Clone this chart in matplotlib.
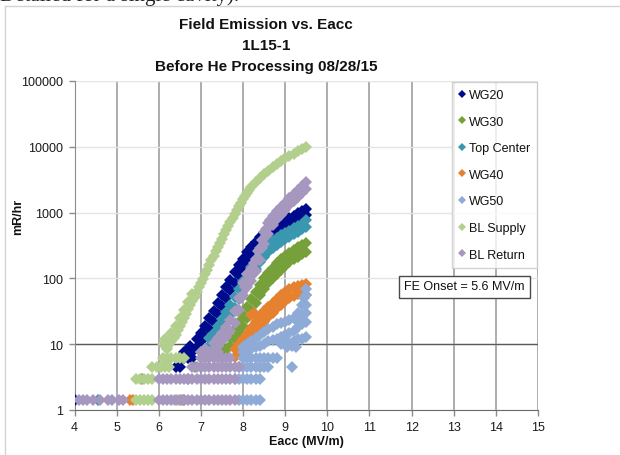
import matplotlib
matplotlib.use("Agg")
import matplotlib.pyplot as plt
from matplotlib.ticker import FixedLocator, FuncFormatter, NullLocator
from matplotlib.lines import Line2D

plt.rcParams['font.family'] = ['Liberation Sans', 'DejaVu Sans']

# --- data (Eacc in MV/m, dose in mR/hr) ---
series_names = ['WG20', 'WG30', 'Top Center', 'WG40', 'WG50', 'BL Supply', 'BL Return']
series_colors = ['#000a8c', '#76a03a', '#3a97b0', '#e6822f', '#8eaad6', '#b3cf8e', '#a697bf']

# WG20
wg20_floor_x = [4.0, 6.4, 6.5, 6.5, 6.6, 6.7, 6.8, 6.6, 6.7, 6.8, 6.75]
wg20_floor_y = [1.4, 4.5, 4.5, 6.1, 6.1, 6.1, 6.1, 7.5, 8.5, 7.5, 9.5]
wg20_band_x = [6.9, 7.0, 7.1, 7.2, 7.3, 7.4, 7.5, 7.6, 7.7, 7.8, 7.9, 8.0, 8.1, 8.2,
               8.3, 8.4, 8.5, 8.6, 8.7, 8.8, 8.9, 9.0, 9.1, 9.2, 9.3, 9.4, 9.5]
wg20_band_lo = [9, 11, 13, 17, 22, 29, 38, 50, 66, 86, 112, 145, 185, 230,
                275, 330, 385, 440, 500, 545, 590, 635, 690, 745, 800, 860, 930]
wg20_band_hi = [12, 15, 19, 25, 32, 42, 56, 74, 96, 125, 160, 200, 250, 300,
                355, 420, 490, 560, 625, 680, 730, 780, 840, 900, 970, 1050, 1150]

# WG30
wg30_floor_x = [5.6, 6.85, 7.5, 7.45, 7.55, 7.6]
wg30_floor_y = [3.0, 4.5, 6.1, 6.6, 7.5, 8.5]
wg30_band_x = [7.7, 7.8, 7.9, 8.0, 8.1, 8.2, 8.3, 8.4, 8.5, 8.6, 8.7, 8.8, 8.9,
               9.0, 9.1, 9.2, 9.3, 9.4, 9.5]
wg30_band_lo = [9.5, 12, 15, 19, 25, 33, 43, 55, 68, 84, 100, 118, 136,
                155, 175, 195, 215, 235, 255]
wg30_band_hi = [13, 17, 22, 28, 37, 49, 63, 80, 100, 122, 145, 170, 195,
                220, 245, 270, 295, 320, 350]

# Top Center
top_floor_x = [4.55, 6.6, 6.7, 7.0, 7.0, 7.1]
top_floor_y = [1.4, 1.4, 3.0, 4.5, 7.5, 8.5]
top_band_x = [7.2, 7.3, 7.4, 7.5, 7.6, 7.7, 7.8, 7.9, 8.0, 8.1, 8.2, 8.3, 8.4,
              8.5, 8.6, 8.7, 8.8, 8.9, 9.0, 9.1, 9.2, 9.3, 9.4, 9.5]
top_band_lo = [9.5, 11, 13.5, 17, 22, 28, 36, 48, 64, 85, 110, 140, 175,
               215, 255, 290, 325, 360, 395, 430, 470, 510, 555, 600]
top_band_hi = [12.5, 15, 19, 24, 31, 40, 52, 68, 90, 118, 150, 190, 235,
               285, 330, 370, 410, 450, 490, 530, 575, 620, 670, 760]

# WG40
wg40_floor_x = [5.32, 5.38, 6.55, 8.4, 8.0, 8.2, 8.25]
wg40_floor_y = [1.4, 1.4, 1.4, 4.5, 8.5, 28, 30]
wg40_band_x = [7.8, 7.9, 8.0, 8.1, 8.2, 8.3, 8.4, 8.5, 8.6, 8.7, 8.8, 8.9,
               9.0, 9.1, 9.2, 9.3, 9.4, 9.5]
wg40_band_lo = [6.5, 7.5, 9, 10.5, 12.5, 15, 18, 22, 26, 30, 35, 40,
                45, 50, 54, 57, 58, 56]
wg40_band_hi = [8.5, 10, 12, 14.5, 17.5, 22, 27, 32, 37, 43, 49, 56,
                62, 68, 73, 77, 80, 82]

# WG50
wg50_floor_x = [7.9, 8.0, 8.1, 8.2, 8.3, 8.4,
                7.8, 7.9, 8.0, 8.1, 8.2, 8.3, 8.4,
                7.9, 8.0, 8.1, 8.2, 8.3, 8.4, 8.5, 8.6, 9.15,
                8.0, 8.1, 8.2, 8.3, 8.4, 8.5, 8.6, 8.7, 8.8,
                9.05, 9.15, 9.25, 8.9, 9.0, 9.1, 9.2, 9.3, 9.4, 9.5,
                9.3, 9.4, 9.5, 9.5, 9.45, 9.5]
wg50_floor_y = [1.4, 1.4, 1.4, 1.4, 1.4, 1.4,
                3.0, 3.0, 3.0, 3.0, 3.0, 3.0, 3.0,
                4.5, 4.5, 4.5, 4.5, 4.5, 4.5, 4.5, 4.5, 4.5,
                6.1, 6.1, 6.1, 6.1, 6.1, 6.1, 6.1, 6.1, 6.1,
                9, 9.5, 9, 10, 11, 10.5, 11, 12, 12, 13,
                22, 28, 30, 40, 50, 68]
wg50_band_x = [8.0, 8.1, 8.2, 8.3, 8.4, 8.5, 8.6, 8.7, 8.8, 8.9, 9.0, 9.1,
               9.2, 9.3, 9.4, 9.5]
wg50_band_lo = [7.5, 8, 8.5, 9, 9.5, 10, 11, 11.5, 12, 13, 14, 15, 16, 18, 20, 22]
wg50_band_hi = [9, 10, 11, 12.5, 14, 15.5, 17, 18.5, 20, 21, 22, 23, 25, 30, 40, 55]

# BL Supply
bls_floor_x = [5.45, 5.55, 5.65, 5.75, 5.85, 6.35, 6.45,
               5.45, 5.55, 5.65, 5.75, 5.85,
               5.85, 5.95, 6.05, 6.15, 6.25,
               6.1, 6.2, 6.3, 6.4, 6.5, 6.6,
               6.1, 6.15, 6.25, 6.3, 6.2,
               6.3, 6.4, 6.5, 6.6, 6.7, 6.8]
bls_floor_y = [1.4, 1.4, 1.4, 1.4, 1.4, 1.4, 1.4,
               3.0, 3.0, 3.0, 3.0, 3.0,
               4.5, 4.5, 4.5, 4.5, 4.5,
               6.1, 6.1, 6.1, 6.1, 6.1, 6.1,
               10, 12, 10.5, 12.5, 8.5,
               15, 19, 25, 33, 44, 58]
bls_band_x = [6.2, 6.25, 6.3, 6.35, 6.4, 6.45, 6.5, 6.55, 6.6, 6.65, 6.7, 6.75,
              6.8, 6.85, 6.9, 6.95, 7.0, 7.05, 7.1, 7.15, 7.2, 7.25, 7.3, 7.35,
              7.4, 7.45, 7.5, 7.55, 7.6, 7.65, 7.7, 7.75, 7.8, 7.85, 7.9, 7.95,
              8.0, 8.05, 8.1, 8.15, 8.2, 8.3, 8.4, 8.5, 8.6, 8.7,
              8.8, 8.9, 9.0, 9.1, 9.2, 9.3, 9.4, 9.5]
bls_band_y = [9, 10, 11, 12.5, 14, 16.5, 19, 22, 25, 29, 34, 40,
              46, 53, 62, 73, 85, 99, 115, 135, 160, 188, 220, 257,
              300, 347, 400, 465, 540, 625, 720, 827, 950, 1090, 1250, 1410,
              1600, 1790, 2000, 2220, 2450, 2900, 3350, 3800, 4300, 4900,
              5500, 6100, 6700, 7300, 7900, 8500, 9200, 10000]

# BL Return
blr_floor_x = [4.1, 4.2, 4.3, 4.45, 4.6, 4.8, 4.9, 5.05, 5.15,
               6.0, 6.1, 6.2, 6.3, 6.4, 6.5, 6.6, 6.7, 6.8, 6.9, 7.0, 7.1, 7.2, 7.3,
               7.4, 7.5, 7.6, 7.7, 7.8,
               6.0, 6.1, 6.2, 6.3, 6.4, 6.5, 6.6, 6.7, 6.8, 6.9, 7.0, 7.1, 7.2, 7.3,
               7.4, 7.5, 7.6, 7.7, 7.8,
               6.8, 6.9, 7.0, 7.1, 7.2, 7.3, 7.4, 7.5, 7.6, 7.7, 7.8, 7.9,
               7.0, 7.1, 7.2, 7.3, 7.4, 7.5, 7.6, 7.7,
               7.0, 7.1, 7.2, 7.3, 7.4,
               7.85, 7.95, 8.05, 8.15, 8.25, 8.35, 8.45, 8.55, 8.65, 8.75, 8.85,
               8.25, 8.35, 8.45, 8.55, 8.65]
blr_floor_y = [1.4, 1.4, 1.4, 1.4, 1.4, 1.4, 1.4, 1.4, 1.4,
               1.4, 1.4, 1.4, 1.4, 1.4, 1.4, 1.4, 1.4, 1.4, 1.4, 1.4, 1.4, 1.4, 1.4,
               1.4, 1.4, 1.4, 1.4, 1.4,
               3.0, 3.0, 3.0, 3.0, 3.0, 3.0, 3.0, 3.0, 3.0, 3.0, 3.0, 3.0, 3.0, 3.0,
               3.0, 3.0, 3.0, 3.0, 3.0,
               4.5, 4.5, 4.5, 4.5, 4.5, 4.5, 4.5, 4.5, 4.5, 4.5, 4.5, 4.5,
               6.1, 6.1, 6.1, 6.1, 6.1, 6.1, 6.1, 6.1,
               7.5, 8.5, 7.5, 8.5, 7.5,
               32, 50, 75, 100, 120, 200, 290, 440, 620, 800, 1000,
               170, 260, 380, 560, 780]
blr_band_x = [7.3, 7.4, 7.5, 7.6, 7.7, 7.8, 7.9, 8.0, 8.1, 8.2, 8.3, 8.4, 8.5,
              8.6, 8.7, 8.8, 8.9, 9.0, 9.1, 9.2, 9.3, 9.4, 9.5]
blr_band_lo = [8, 9.5, 11, 13, 16, 21, 33, 55, 75, 90, 130, 190, 330,
               480, 640, 800, 920, 1100, 1300, 1500, 1750, 2000, 2300]
blr_band_hi = [10.5, 12.5, 15, 18, 23, 32, 50, 85, 115, 140, 200, 290, 500,
               700, 900, 1050, 1200, 1400, 1650, 1900, 2200, 2500, 2900]

series_x = [
    wg20_floor_x + wg20_band_x + wg20_band_x,
    wg30_floor_x + wg30_band_x + wg30_band_x,
    top_floor_x + top_band_x + top_band_x,
    wg40_floor_x + wg40_band_x + wg40_band_x,
    wg50_floor_x + wg50_band_x + wg50_band_x,
    bls_floor_x + bls_band_x,
    blr_floor_x + blr_band_x + blr_band_x,
]
series_y = [
    wg20_floor_y + wg20_band_lo + wg20_band_hi,
    wg30_floor_y + wg30_band_lo + wg30_band_hi,
    top_floor_y + top_band_lo + top_band_hi,
    wg40_floor_y + wg40_band_lo + wg40_band_hi,
    wg50_floor_y + wg50_band_lo + wg50_band_hi,
    bls_floor_y + bls_band_y,
    blr_floor_y + blr_band_lo + blr_band_hi,
]

x_ticks = list(range(4, 16))
y_ticks = [1, 10, 100, 1000, 10000, 100000]

W, H = 620, 456
fig = plt.figure(figsize=(W / 100, H / 100), dpi=100)
ax = fig.add_axes([74.5 / W, 45 / H, 463.5 / W, 329 / H])

for xs, ys, name, c in zip(series_x, series_y, series_names, series_colors):
    ax.plot(xs, ys, linestyle='none', marker='D', ms=6, mew=0, color=c, label=name, zorder=3)

ax.set_yscale('log')
ax.set_xlim(4, 15)
ax.set_ylim(1, 100000)
ax.xaxis.set_major_locator(FixedLocator(x_ticks))
ax.yaxis.set_major_locator(FixedLocator(y_ticks))
ax.yaxis.set_minor_locator(NullLocator())
ax.yaxis.set_major_formatter(FuncFormatter(lambda v, p: '%d' % v))
ax.tick_params(labelsize=9, colors='#1a1a1a', length=4, width=1, pad=4)
ax.tick_params(axis='x', color='#8c8c8c')
ax.tick_params(axis='y', color='#8c8c8c')

ax.set_axisbelow(True)
ax.grid(axis='x', color='#a6a6a6', lw=1.3)
ax.grid(axis='y', color='#e4e4e4', lw=1)
ax.axhline(10, color='#5a5a5a', lw=1, zorder=1)
for s in ['top', 'right']:
    ax.spines[s].set_visible(False)
ax.spines['left'].set_color('#8c8c8c')
ax.spines['bottom'].set_color('#6a6a6a')

# titles and labels
title_x = 266 / W
for txt, yp in [('Field Emission vs. Eacc', 25), ('1L15-1', 46), ('Before He Processing 08/28/15', 67)]:
    fig.text(title_x, 1 - yp / H, txt, ha='center', va='center', fontsize=11,
             fontweight='bold', color='#111111')
fig.text(306 / W, 1 - 442 / H, 'Eacc (MV/m)', ha='center', va='center', fontsize=9,
         fontweight='bold', color='#111111')
fig.text(18 / W, 1 - 217 / H, 'mR/hr', ha='center', va='center', rotation=90, fontsize=9,
         fontweight='bold', color='#111111')

leg_handles = [Line2D([], [], linestyle='none', marker='D', ms=4, mew=0, color=c)
               for c in series_colors]
leg = ax.legend(leg_handles, series_names, loc='upper left',
                bbox_to_anchor=(452 / W, 1 - 83 / H), bbox_transform=fig.transFigure,
                fontsize=9, frameon=True, fancybox=False, edgecolor='#c8c8c8',
                handlelength=0.5, handletextpad=0.3, labelspacing=1.17,
                borderpad=0.55, borderaxespad=0)
leg.get_frame().set_linewidth(1)
for t in leg.get_texts():
    t.set_color('#111111')

fig.text(464.5 / W, 1 - 287.5 / H, 'FE Onset = 5.6 MV/m', ha='center', va='center',
         fontsize=9, color='#111111',
         bbox=dict(boxstyle='square,pad=0.4', fc='white', ec='#4a4a4a', lw=1))

# page frame and the clipped caption line of the surrounding document
fig.add_artist(Line2D([5 / W, 1], [1 - 7 / H, 1 - 7 / H], color='#d4d4d4', lw=1))
fig.add_artist(Line2D([5 / W, 5 / W], [0, 1 - 7 / H], color='#d4d4d4', lw=1))
fig.text(0.0, 1 - 1 / H, 'Detailed for a single cavity).', ha='left', va='baseline',
         fontsize=15, family='Liberation Serif', color='#222222')

fig.savefig('out.png', dpi=100)
